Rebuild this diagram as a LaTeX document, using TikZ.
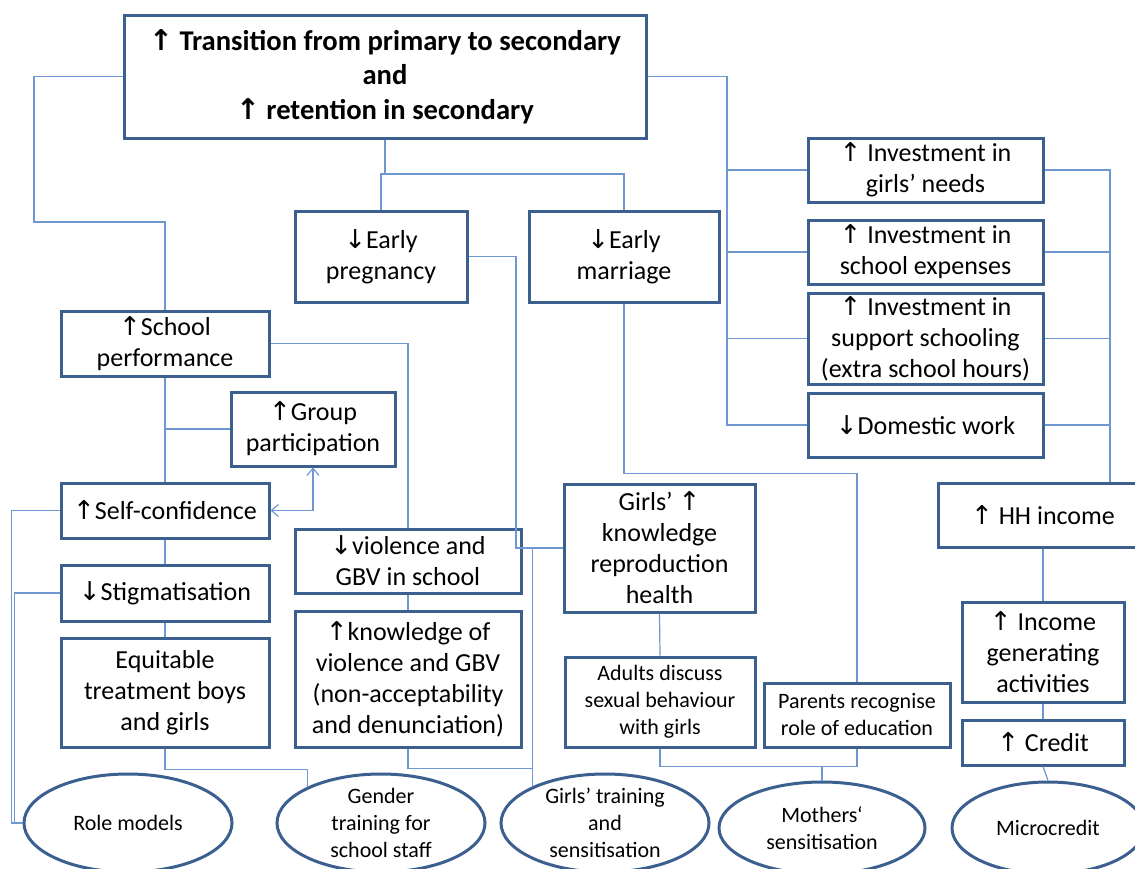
\documentclass[tikz,border=0pt]{standalone}
\usepackage{fontspec}
\setmainfont{Carlito}
\newfontfamily\arrfont{DejaVu Sans}
\usetikzlibrary{shapes.geometric, arrows.meta}
\definecolor{boxblue}{HTML}{3B5F8E}
\definecolor{linkblue}{HTML}{6F98D2}
\newcommand\arrup{{\arrfont ↑}}
\newcommand\arrdn{{\arrfont ↓}}

\begin{document}
\begin{tikzpicture}[
  x=0.5pt, y=-0.5pt,
  box/.style={draw=boxblue, line width=1.5pt, fill=white, align=center, inner sep=0pt,
    font=\fontsize{13}{15.5}\selectfont},
  goalbox/.style={box, font=\bfseries\fontsize{14.3}{17.25}\selectfont},
  smallbox/.style={box, font=\fontsize{11}{13.5}\selectfont},
  oval/.style={ellipse, draw=boxblue, line width=1.5pt, fill=white, align=center,
    inner xsep=0pt, inner ysep=-5pt, font=\fontsize{11}{13.5}\selectfont},
  sz/.style 2 args={minimum width=#1*0.5pt, minimum height=#2*0.5pt},
  link/.style={draw=linkblue, line width=0.6pt},
  twoway/.style={link, {Straight Barb[length=3.5pt, width=6pt]}-{Straight Barb[length=3.5pt, width=6pt]}}
]

\path[fill=white, use as bounding box] (0,0) rectangle (1135,868);

\coordinate (trunkL) at (727,0);
\coordinate (trunkR) at (1110,0);
\coordinate (topbar) at (385,174);
\coordinate (pdrop)  at (516,0);

\node[goalbox, sz={522}{123}] (goal) at (385,76.5)
  {\arrup{} Transition from primary to secondary\\and\\\arrup{} retention in secondary};

\node[box, sz={172}{91}] (preg) at (381,256.5) {\arrdn Early\\pregnancy};
\node[box, sz={190}{91}] (marr) at (624,256.5) {\arrdn Early\\marriage};

\node[box, sz={235}{64}] (invgirls) at (925.5,170)   {\arrup{} Investment in\\girls’ needs};
\node[box, sz={235}{64}] (invexp)   at (925.5,252)   {\arrup{} Investment in\\school expenses};
\node[box, sz={235}{91}] (invsupp)  at (925.5,338.5) {\arrup{} Investment in\\support schooling\\(extra school hours)};
\node[box, sz={235}{64}] (domwork)  at (925.5,425)   {\arrdn Domestic work};
\node[box, sz={210}{64}] (hh)       at (1043,515)    {\arrup{} HH income};

\node[box, sz={208}{65}]  (perf)  at (165,343.5) {\arrup School\\performance};
\node[box, sz={164}{74}]  (group) at (313,429)   {\arrup Group\\participation};
\node[box, sz={208}{55}]  (conf)  at (165,510.5) {\arrup Self-confidence};
\node[box, sz={208}{56}]  (stig)  at (165,593)   {\arrdn Stigmatisation};
\node[box, sz={208}{109}] (equit) at (165,692.5) {Equitable\\treatment boys\\and girls};

\node[box, sz={226}{64}]  (viol) at (408,561) {\arrdn violence and\\GBV in school};
\node[box, sz={226}{136}] (know) at (408,679)
  {\arrup knowledge of\\violence and GBV\\(non-acceptability\\and denunciation)};

\node[box, sz={191}{128}]     (repro)   at (659.5,548) {Girls’ \arrup\\knowledge\\reproduction\\health};
\node[smallbox, sz={190}{90}] (adults)  at (660,702)   {Adults discuss\\sexual behaviour\\with girls};
\node[smallbox, sz={186}{64}] (parents) at (857,715)   {Parents recognise\\role of education};

\node[box, sz={162}{100}] (income) at (1043,652)   {\arrup{} Income\\generating\\activities};
\node[box, sz={162}{45}]  (credit) at (1043,742.5) {\arrup{} Credit};

\node[oval, sz={208}{98}] (role)    at (128,823)  {Role models};
\node[oval, sz={208}{98}] (gender)  at (381,823)  {Gender\\training for\\school staff};
\node[oval, sz={208}{98}] (gtrain)  at (605,823)  {Girls’ training\\and\\sensitisation};
\node[oval, sz={206}{92}] (mothers) at (822,828)  {Mothers‘\\sensitisation};
\node[oval, sz={192}{92}] (micro)   at (1048,828) {Microcredit};

\draw[link] (goal.west) -| (34,222) -| (perf.north);
\draw[link] (goal.south) -- (topbar);
\draw[link] (preg.north) |- (marr.north |- topbar) -- (marr.north);

\draw[link] (goal.east) -| (domwork.west -| trunkL) -- (domwork.west);
\foreach \n in {invgirls,invexp,invsupp} {
  \draw[link] (\n.west) -- (\n.west -| trunkL);
}
\draw[link] (invgirls.east) -| (hh.north -| trunkR);
\foreach \n in {invexp,invsupp,domwork} {
  \draw[link] (\n.east) -- (\n.east -| trunkR);
}

\draw[link] (perf.south) -- (conf.north);
\draw[link] (group.west) -- (group.west -| perf.south);
\draw[twoway] (conf.east) -| (group.south);
\draw[link] (conf.south) -- (stig.north);
\draw[link] (stig.south) -- (equit.north);
\draw[link] (conf.west) -- ++(-48,0) |- (role.west);
\draw[link] (stig.west) -- ++(-45,0) |- (role.west);
\draw[link] (equit.south) -- ++(0,21) -| (gender.154);

\draw[link] (perf.east) -| (viol.north);
\draw[link] (viol.south) -- (know.north);
\draw[link] (know.south) -- ++(0,20) -| (gtrain.153);

\draw[link] (preg.east) -| (repro.west -| pdrop) -- (repro.west);
\draw[link] (repro.west -| gtrain.153) -- (gtrain.153);
\draw[link] (repro.south) -- (adults.north);
\draw[link] (marr.south) -- ++(0,170) -| (parents.north);
\draw[link] (adults.south) -- ++(0,18) coordinate (abar) -| (parents.south);
\draw[link] (mothers.north) -- (mothers.north |- abar);

\draw[link] (hh.south) -- (income.north);
\draw[link] (income.south) -- (credit.north);
\draw[link] (credit.south) -- (micro.north);

\end{tikzpicture}
\end{document}
